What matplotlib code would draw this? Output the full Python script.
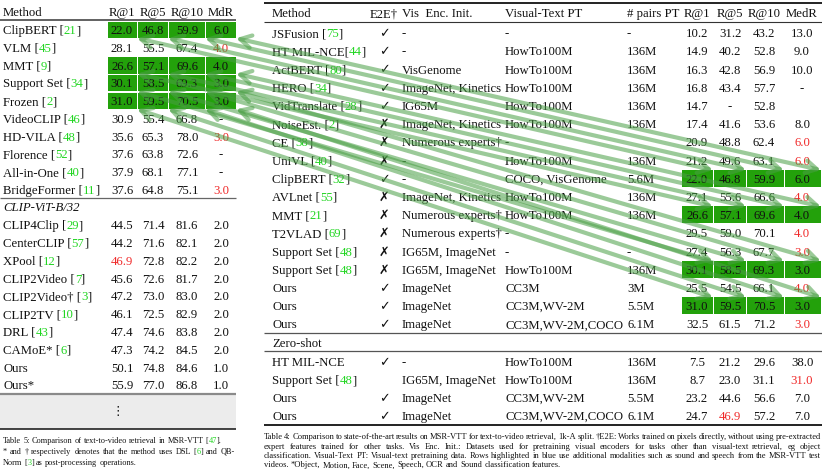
import re
import matplotlib
matplotlib.use("Agg")
import matplotlib.pyplot as plt
from matplotlib.patches import Rectangle, FancyArrowPatch

# ---------------- data: Table 5 (left) ----------------
left_head = ["R@1", "R@5", "R@10", "MdR"]
left_top = ["ClipBERT [21]", "VLM [45]", "MMT [9]", "Support Set [34]", "Frozen [2]",
            "VideoCLIP [46]", "HD-VILA [48]", "Florence [52]", "All-in-One [40]",
            "BridgeFormer [11]"]
left_top_vals = [
    ["22.0", "46.8", "59.9", "6.0"],
    ["28.1", "55.5", "67.4", "4.0"],
    ["26.6", "57.1", "69.6", "4.0"],
    ["30.1", "58.5", "69.3", "3.0"],
    ["31.0", "59.5", "70.5", "3.0"],
    ["30.9", "55.4", "66.8", "-"],
    ["35.6", "65.3", "78.0", "3.0"],
    ["37.6", "63.8", "72.6", "-"],
    ["37.9", "68.1", "77.1", "-"],
    ["37.6", "64.8", "75.1", "3.0"],
]
left_top_red = [(1, 3), (6, 3), (9, 3)]
left_group = "CLIP-ViT-B/32"
left_bot = ["CLIP4Clip [29]", "CenterCLIP [57]", "XPool [12]", "CLIP2Video [7]",
            "CLIP2Video\u2020 [3]", "CLIP2TV [10]", "DRL [43]", "CAMoE* [6]", "Ours", "Ours*"]
left_bot_vals = [
    ["44.5", "71.4", "81.6", "2.0"],
    ["44.2", "71.6", "82.1", "2.0"],
    ["46.9", "72.8", "82.2", "2.0"],
    ["45.6", "72.6", "81.7", "2.0"],
    ["47.2", "73.0", "83.0", "2.0"],
    ["46.1", "72.5", "82.9", "2.0"],
    ["47.4", "74.6", "83.8", "2.0"],
    ["47.3", "74.2", "84.5", "2.0"],
    ["50.1", "74.8", "84.6", "1.0"],
    ["55.9", "77.0", "86.8", "1.0"],
]
left_bot_red = [(2, 0)]
left_green = [0, 2, 3, 4]
left_caption = [
    "Table 5: Comparison of text-to-video retrieval in MSR-VTT [47].",
    "* and \u2020 respectively denotes that the method uses DSL [6] and QB-",
    "Norm [3] as post-processing operations.",
]

# ---------------- data: Table 4 (right) ----------------
right_head = ["Method", "E2E\u2020", "Vis  Enc. Init.", "Visual-Text PT", "# pairs PT",
              "R@1", "R@5", "R@10", "MedR"]
right_rows = [
    ["JSFusion [75]", "\u2713", "-", "-", "-", "10.2", "31.2", "43.2", "13.0"],
    ["HT MIL-NCE[44]", "\u2713", "-", "HowTo100M", "136M", "14.9", "40.2", "52.8", "9.0"],
    ["ActBERT [80]", "\u2713", "VisGenome", "HowTo100M", "136M", "16.3", "42.8", "56.9", "10.0"],
    ["HERO [34]", "\u2713", "ImageNet, Kinetics", "HowTo100M", "136M", "16.8", "43.4", "57.7", "-"],
    ["VidTranslate [28]", "\u2713", "IG65M", "HowTo100M", "136M", "14.7", "-", "52.8", ""],
    ["NoiseEst. [2]", "\u2717", "ImageNet, Kinetics", "HowTo100M", "136M", "17.4", "41.6", "53.6", "8.0"],
    ["CE [38]", "\u2717", "Numerous experts\u2020", "-", "", "20.9", "48.8", "62.4", "6.0"],
    ["UniVL [40]", "\u2717", "-", "HowTo100M", "136M", "21.2", "49.6", "63.1", "6.0"],
    ["ClipBERT [32]", "\u2713", "-", "COCO, VisGenome", "5.6M", "22.0", "46.8", "59.9", "6.0"],
    ["AVLnet [55]", "\u2717", "ImageNet, Kinetics", "HowTo100M", "136M", "27.1", "55.6", "66.6", "4.0"],
    ["MMT [21]", "\u2717", "Numerous experts\u2020", "HowTo100M", "136M", "26.6", "57.1", "69.6", "4.0"],
    ["T2VLAD [69]", "\u2717", "Numerous experts\u2020", "-", "", "29.5", "59.0", "70.1", "4.0"],
    ["Support Set [48]", "\u2717", "IG65M, ImageNet", "-", "-", "27.4", "56.3", "67.7", "3.0"],
    ["Support Set [48]", "\u2717", "IG65M, ImageNet", "HowTo100M", "136M", "30.1", "58.5", "69.3", "3.0"],
    ["Ours", "\u2713", "ImageNet", "CC3M", "3M", "25.5", "54.5", "66.1", "4.0"],
    ["Ours", "\u2713", "ImageNet", "CC3M,WV-2M", "5.5M", "31.0", "59.5", "70.5", "3.0"],
    ["Ours", "\u2713", "ImageNet", "CC3M,WV-2M,COCO", "6.1M", "32.5", "61.5", "71.2", "3.0"],
]
right_red = [(6, 8), (7, 8), (9, 8), (11, 8), (12, 8), (14, 8), (16, 8)]
zero_shot = "Zero-shot"
zero_rows = [
    ["HT MIL-NCE", "\u2713", "-", "HowTo100M", "136M", "7.5", "21.2", "29.6", "38.0"],
    ["Support Set [48]", "", "IG65M, ImageNet", "HowTo100M", "136M", "8.7", "23.0", "31.1", "31.0"],
    ["Ours", "\u2713", "ImageNet", "CC3M,WV-2M", "5.5M", "23.2", "44.6", "56.6", "7.0"],
    ["Ours", "\u2713", "ImageNet", "CC3M,WV-2M,COCO", "6.1M", "24.7", "46.9", "57.2", "7.0"],
]
zero_red = [(1, 8), (3, 6)]
right_green = [8, 10, 13, 15]
right_caption = [
    "Table 4: Comparison to state-of-the-art results on MSR-VTT for text-to-video retrieval, 1k-A split. "
    "\u2020E2E: Works trained on pixels directly, without using pre-extracted",
    "expert features trained for other tasks. Vis Enc. Init.: Datasets used for pretraining visual "
    "encoders for tasks other than visual-text retrieval, eg object",
    "classification. Visual-Text PT: Visual-text pretraining data. Rows highlighted in blue use "
    "additional modalities such as sound and speech from the MSR-VTT test",
    "videos. *Object, Motion, Face, Scene, Speech, OCR and Sound classification features.",
]

# ---------------- style ----------------
FAM = ["Liberation Serif", "DejaVu Sans"]
INK = "#111111"
RED = "#f02a2a"
REF = "#22d622"
CELL = "#23a10b"
ARROW = "#4a9f45"
FS = 9.2

fig = plt.figure(figsize=(8.22, 4.69), dpi=100)
ax = fig.add_axes([0, 0, 1, 1])
ax.set_xlim(0, 822)
ax.set_ylim(469, 0)
ax.axis("off")
rend = fig.canvas.get_renderer()


def width(s, size=FS, **kw):
    if not s:
        return 0.0
    t = ax.text(0, 0, s, fontsize=size, family=FAM, **kw)
    w = t.get_window_extent(rend).width
    t.remove()
    return w


def put(x, y, s, size=FS, color=INK, ha="left", **kw):
    # y is the visual middle of the line; citation numbers get the green colour
    if not s:
        return
    if ha == "center":
        x -= width(s, size, **kw) / 2
    base = y + size * 0.45
    pieces = re.split(r"(?<=\[)(\d+)(?=\])", s)
    pos = 0
    for i, p in enumerate(pieces):
        if p:
            off = width(s[:pos] + p, size, **kw) - width(p, size, **kw) if pos else 0.0
            ax.text(x + off, base, p, fontsize=size, family=FAM,
                    color=REF if i % 2 else color, va="baseline", ha="left", **kw)
        pos += len(p)


def caption(lines, x0, x1, y0, dy, justify, size):
    for k, line in enumerate(lines):
        y = y0 + k * dy
        words = line.split(" ")
        ws = [width(w, size) for w in words]
        if justify[k] and len(words) > 1:
            gap = (x1 - x0 - sum(ws)) / (len(words) - 1)
        else:
            gap = width("a b", size) - width("ab", size)
        x = x0
        for w, wd in zip(words, ws):
            put(x, y, w, size=size)
            x += wd + gap


def hline(y, x0, x1, lw, color="#222222"):
    ax.plot([x0, x1], [y, y], color=color, lw=lw, solid_capstyle="butt")


# ---------------- left table ----------------
lx_cells = [(108, 137), (138, 168), (169, 205), (206, 236)]
lx_mid = [122, 153, 187, 221]
ly_top = [30 + 17.75 * i for i in range(len(left_top))]
ly_bot = [225 + 17.8 * i for i in range(len(left_bot))]

hline(20, 0, 236, 1.3, "#555555")
hline(198, 0, 236, 0.9, "#666666")
for r in left_green:
    for a, b in lx_cells:
        ax.add_patch(Rectangle((a, ly_top[r] - 8.2), b - a, 16.4, color=CELL, lw=0))

put(3, 12, "Method")
for h, xm in zip(left_head, lx_mid):
    put(xm, 12, h, ha="center")
for r, (m, vals) in enumerate(zip(left_top, left_top_vals)):
    put(3, ly_top[r], m)
    for c, v in enumerate(vals):
        put(lx_mid[c], ly_top[r], v, color=RED if (r, c) in left_top_red else INK, ha="center")
put(3, 207, left_group, style="italic")
for r, (m, vals) in enumerate(zip(left_bot, left_bot_vals)):
    put(3, ly_bot[r], m)
    for c, v in enumerate(vals):
        put(lx_mid[c], ly_bot[r], v, color=RED if (r, c) in left_bot_red else INK, ha="center")

ax.add_patch(Rectangle((0, 395), 236, 34, color="#ececec", lw=0))
hline(394.5, 0, 236, 1.6, "#8a8a8a")
hline(429.5, 0, 236, 1.1, "#111111")
put(118, 411, "\u22ee", size=9, ha="center")
caption(left_caption, 3, 235, 440, 11.2, [False, True, False], 5.95)

# ---------------- right table ----------------
rx_text = [272, 384, 402, 505, 627]
rx_cells = [(682, 713), (714, 746), (747, 784), (785, 821)]
rx_mid = [697, 730, 764, 802]
ry = [33 + 18.2 * i for i in range(len(right_rows))]
ry_zero = [362 + 18 * i for i in range(len(zero_rows))]

hline(3, 264, 822, 1.3, "#111111")
hline(22, 264, 822, 0.8, "#333333")
hline(333.5, 264, 822, 0.9, "#555555")
hline(351.5, 264, 822, 0.9, "#555555")
hline(425, 264, 822, 1.3, "#111111")
for r in right_green:
    for a, b in rx_cells:
        ax.add_patch(Rectangle((a, ry[r] - 8.5), b - a, 17, color=CELL, lw=0))

for c, h in enumerate(right_head):
    if c < 5:
        put(rx_text[c] if c != 1 else 370, 13, h)
    else:
        put(rx_mid[c - 5], 13, h, ha="center")


def right_row(y, row, reds, r):
    for c, v in enumerate(row):
        col = RED if (r, c) in reds else INK
        if c == 1:
            put(rx_text[1], y, v, ha="center")
        elif c < 5:
            put(rx_text[c], y, v, color=col)
        else:
            put(rx_mid[c - 5], y, v, color=col, ha="center")


for r, row in enumerate(right_rows):
    right_row(ry[r], row, right_red, r)
put(272, 343, zero_shot)
for r, row in enumerate(zero_rows):
    right_row(ry_zero[r], row, zero_red, r)

caption(right_caption, 264, 821, 436.5, 9.4, [True, True, True, False], 6.1)

# ---------------- links between identical results ----------------
for lr, rr in zip(left_green, right_green):
    for (la, lb), (ra, rb) in zip(lx_cells, rx_cells):
        arr = FancyArrowPatch((lb, ly_top[lr] + 8.2), (rb, ry[rr] - 8.5),
                              arrowstyle="<->,head_length=8,head_width=4.5",
                              color=ARROW, alpha=0.55, lw=3.0,
                              shrinkA=0, shrinkB=0, zorder=5)
        ax.add_patch(arr)

fig.savefig("out.png", dpi=100, facecolor="white")
